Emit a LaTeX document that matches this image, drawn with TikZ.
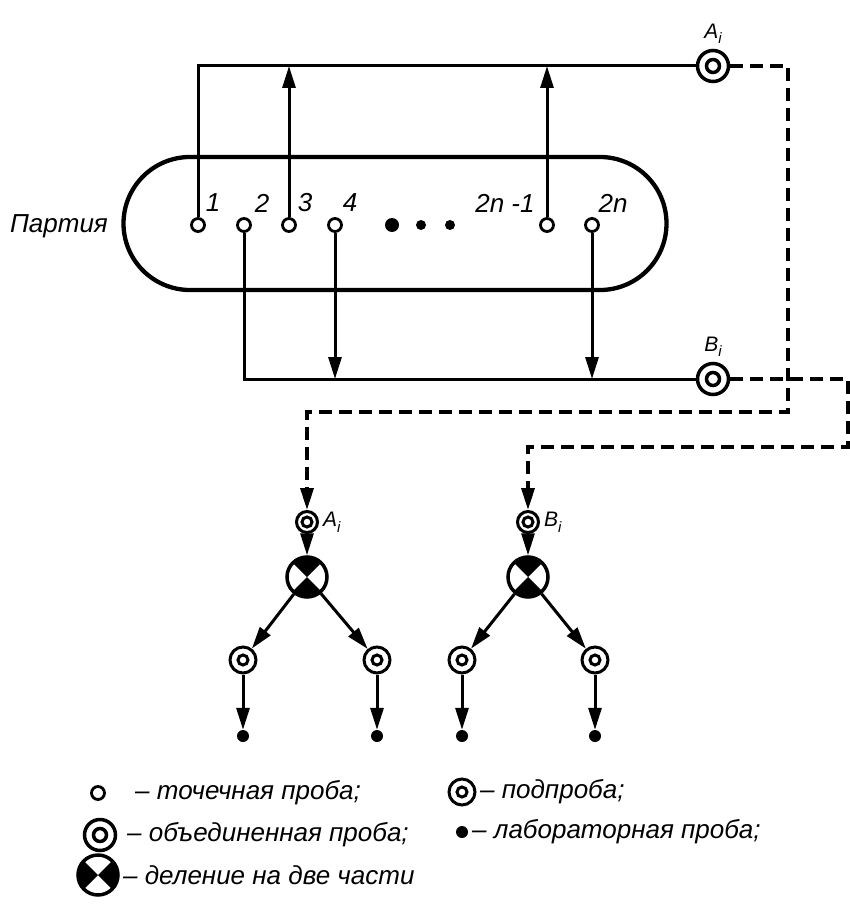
\documentclass[tikz,border=0pt]{standalone}
\usepackage{fontspec}
\setmainfont{Liberation Sans}
\usetikzlibrary{arrows.meta,positioning}
\newcommand{\smpl}[1]{#1\raisebox{-0.5ex}{\fontsize{15}{15}\selectfont i}}
\tikzset{
	lnk/.style={line width=3pt},
	arr/.style={lnk,-{Triangle[length=22pt,width=13pt]}},
	dashlnk/.style={line width=3.5pt,dash pattern=on 13pt off 7pt},
	txt/.style={font=\itshape\fontsize{26}{30}\selectfont,inner sep=0pt},
	idx/.style={font=\itshape\fontsize{21}{24}\selectfont,inner sep=0pt},
	spot/.style={circle,draw,line width=2.8pt,fill=white,minimum size=13pt,inner sep=0pt},
	pooled/.style={circle,draw,line width=3.5pt,fill=white,minimum size=31pt,inner sep=0pt,
		path picture={\draw[black,line width=3.5pt] (path picture bounding box.center) circle (6.5pt);}},
	subsmp/.style={circle,draw,line width=3pt,fill=white,minimum size=26pt,inner sep=0pt,
		path picture={\draw[black,line width=3pt] (path picture bounding box.center) circle (5pt);}},
	labsmp/.style={circle,fill,minimum size=12pt,inner sep=0pt},
	split/.style={circle,draw,line width=3.5pt,fill=white,minimum size=40pt,inner sep=0pt,
		path picture={\fill[black] (path picture bounding box.north west) -- (path picture bounding box.center)
			-- (path picture bounding box.north east) -- cycle
			(path picture bounding box.south west) -- (path picture bounding box.center)
			-- (path picture bounding box.south east) -- cycle;}},
	splitkey/.style={circle,draw,line width=3.5pt,fill=white,minimum size=40pt,inner sep=0pt,
		path picture={\fill[black] (path picture bounding box.north west) -- (path picture bounding box.center)
			-- (path picture bounding box.south west) -- cycle
			(path picture bounding box.north east) -- (path picture bounding box.center)
			-- (path picture bounding box.south east) -- cycle;}}
}
\begin{document}
\begin{tikzpicture}[x=1pt,y=-1pt]
	\useasboundingbox (0,0) rectangle (850,904);
	% batch
	\draw[line width=4.3pt] (190,157)--(600,157) arc[start angle=-90,end angle=90,radius=66.5]
		--(190,290) arc[start angle=90,end angle=270,radius=66.5]--cycle;
	\node[txt] (batch) at (59,226) {Партия};
	% point samples
	\node[spot] (s1) at (198,225) {};
	\node[spot] (s2) at (244,225) {};
	\node[spot] (s3) at (289,225) {};
	\node[spot] (s4) at (335,225) {};
	\node[spot] (s2n1) at (547,225) {};
	\node[spot] (s2n) at (592,225) {};
	\node[txt] (n1) at (213,203) {1};
	\node[txt] (n2) at (262,203) {2};
	\node[txt] (n3) at (305,203) {3};
	\node[txt] (n4) at (350,203) {4};
	\node[txt] (n2n1) at (505,203) {2n -1};
	\node[txt] (n2n) at (613,203) {2n};
	\node[circle,fill,minimum size=14pt,inner sep=0pt] (d1) at (392,225) {};
	\node[circle,fill,minimum size=10pt,inner sep=0pt] (d2) at (421,225) {};
	\node[circle,fill,minimum size=10pt,inner sep=0pt] (d3) at (450,225) {};
	% pooled samples
	\node[pooled] (Ai) at (713,66) {};
	\node[pooled] (Bi) at (713,379) {};
	\node[idx,above=5pt of Ai] (labAi) {\smpl{A}};
	\node[idx,above=5pt of Bi] (labBi) {\smpl{B}};
	\draw[lnk] (s1) |- (Ai);
	\draw[arr] (s3) -- (s3 |- Ai);
	\draw[arr] (s2n1) -- (s2n1 |- Ai);
	\draw[lnk] (s2) |- (Bi);
	\draw[arr] (s4) -- (s4 |- Bi);
	\draw[arr] (s2n) -- (s2n |- Bi);
	% sub-samples
	\node[subsmp,minimum size=21pt] (subA) at (307,522) {};
	\node[subsmp,minimum size=21pt] (subB) at (528,522) {};
	\node[idx,right=4pt of subA] (labsubA) {\smpl{A}};
	\node[idx,right=4pt of subB] (labsubB) {\smpl{B}};
	\coordinate (turnA) at (788,412);
	\coordinate (turnB) at (848,447);
	\draw[dashlnk,-{Triangle[length=22pt,width=13pt]}] (Ai) -| (turnA) -| (subA);
	\draw[dashlnk,-{Triangle[length=22pt,width=13pt]}] (Bi) -| (turnB) -| (subB);
	% division
	\node[split] (splitA) at (307,577) {};
	\node[split] (splitB) at (528,577) {};
	\draw[arr] (subA) -- (splitA);
	\draw[arr] (subB) -- (splitB);
	\node[subsmp] (subA1) at (243,660) {};
	\node[subsmp] (subA2) at (377,660) {};
	\node[subsmp] (subB1) at (462,660) {};
	\node[subsmp] (subB2) at (595,660) {};
	\draw[arr] (splitA) -- (subA1);
	\draw[arr] (splitA) -- (subA2);
	\draw[arr] (splitB) -- (subB1);
	\draw[arr] (splitB) -- (subB2);
	\node[labsmp] (labA1) at (243,736) {};
	\node[labsmp] (labA2) at (377,736) {};
	\node[labsmp] (labB1) at (462,736) {};
	\node[labsmp] (labB2) at (595,736) {};
	\draw[arr] (subA1) -- (labA1);
	\draw[arr] (subA2) -- (labA2);
	\draw[arr] (subB1) -- (labB1);
	\draw[arr] (subB2) -- (labB2);
	% legend
	\node[spot] (keyspot) at (98,793) {};
	\node[txt,anchor=west] (txtspot) at (135,793) {– точечная проба;};
	\node[pooled] (keypooled) at (100,835) {};
	\node[txt,anchor=west] (txtpooled) at (127,835) {– объединенная проба;};
	\node[splitkey] (keysplit) at (98,875) {};
	\node[txt,anchor=west] (txtsplit) at (123,875) {– деление на две части};
	\node[subsmp] (keysub) at (462,792) {};
	\node[txt,anchor=west] (txtsub) at (480,792) {– подпроба;};
	\node[labsmp] (keylab) at (462,832) {};
	\node[txt,anchor=west] (txtlab) at (472,832) {– лабораторная проба;};
\end{tikzpicture}
\end{document}
